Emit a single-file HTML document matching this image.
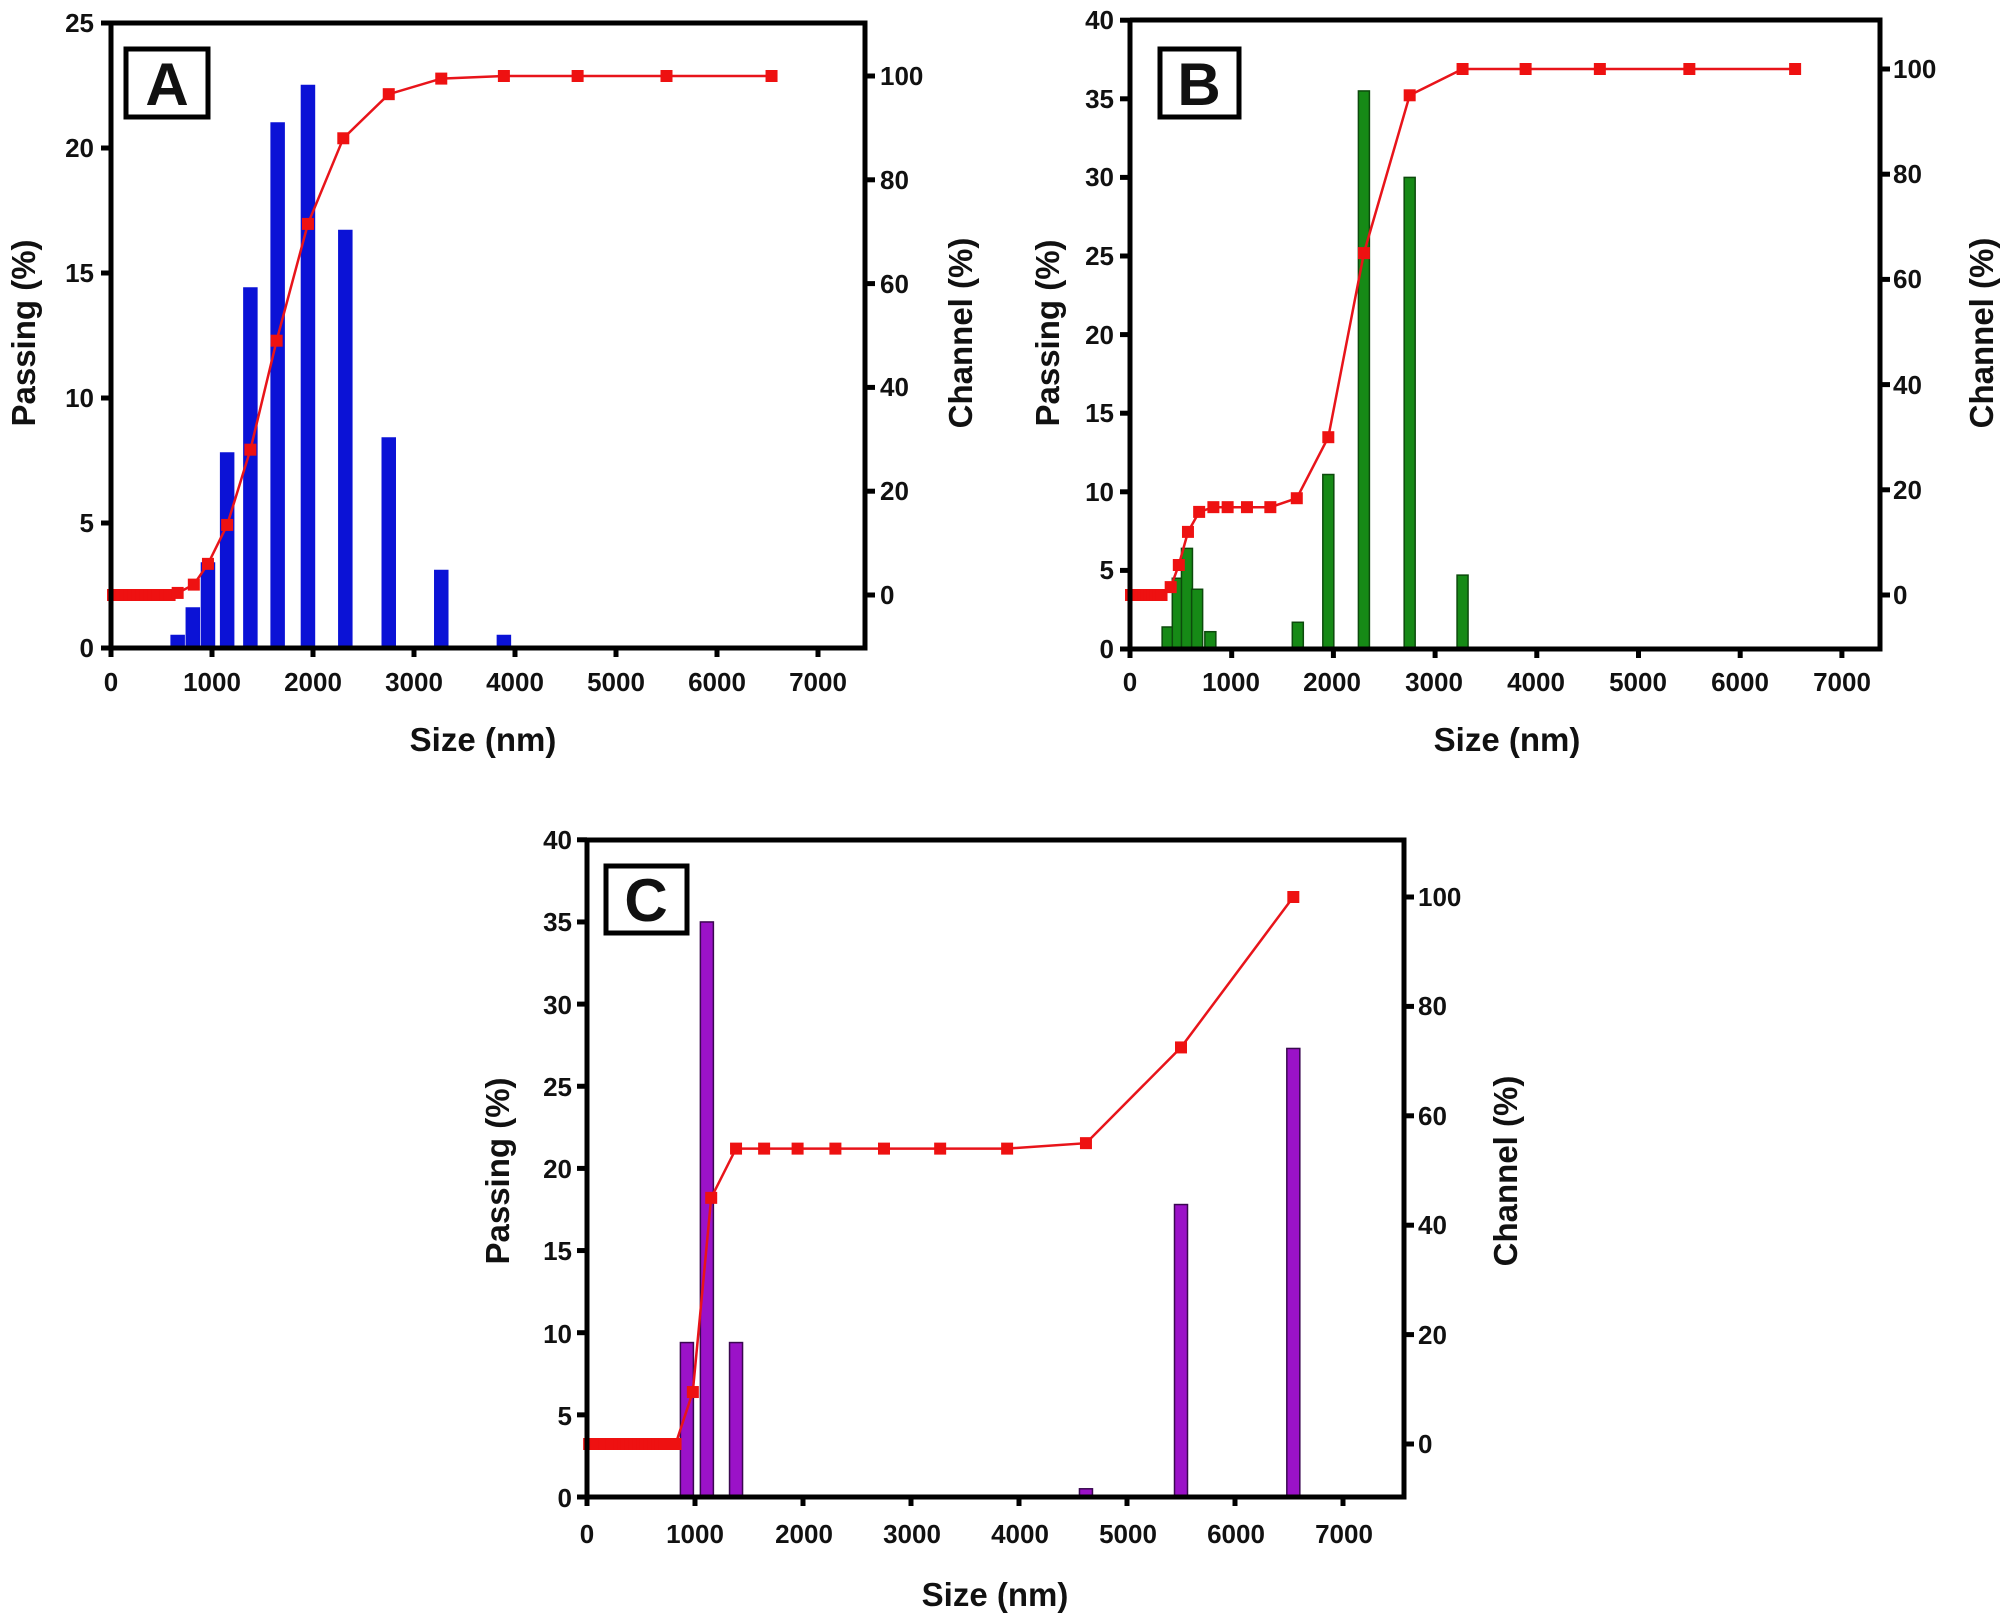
<!DOCTYPE html>
<html><head><meta charset="utf-8"><style>
html,body{margin:0;padding:0;background:#fff;}
svg{display:block;}
text{font-family:"Liberation Sans",Arial,sans-serif;font-weight:bold;fill:#111;}
.t{font-size:26px;}
.a{font-size:33px;}
.L{font-size:60px;}
</style></head><body>
<svg id="s" width="2007" height="1624" viewBox="0 0 2007 1624" xmlns="http://www.w3.org/2000/svg">
<rect width="2007" height="1624" fill="#fff"/>
<g id="g"></g>
<!-- Panel A text -->
<g class="t" text-anchor="middle">
<text x="111" y="691">0</text><text x="212" y="691">1000</text><text x="313" y="691">2000</text><text x="414" y="691">3000</text><text x="515" y="691">4000</text><text x="616" y="691">5000</text><text x="717" y="691">6000</text><text x="818" y="691">7000</text>
</g>
<g class="t" text-anchor="end">
<text x="94" y="657">0</text><text x="94" y="532">5</text><text x="94" y="407">10</text><text x="94" y="282">15</text><text x="94" y="157">20</text><text x="94" y="32">25</text>
</g>
<g class="t" text-anchor="start">
<text x="880" y="604">0</text><text x="880" y="500">20</text><text x="880" y="396">40</text><text x="880" y="293">60</text><text x="880" y="189">80</text><text x="880" y="85">100</text>
</g>
<text class="a" x="483" y="751" text-anchor="middle">Size (nm)</text>
<text class="a" transform="translate(35,333) rotate(-90)" text-anchor="middle">Passing (%)</text>
<text class="a" transform="translate(972,333) rotate(-90)" text-anchor="middle">Channel (%)</text>
<rect x="126" y="49" width="82" height="68" fill="#fff" stroke="#000" stroke-width="5"/>
<text class="L" x="167" y="105" text-anchor="middle">A</text>

<!-- Panel B text -->
<g class="t" text-anchor="middle">
<text x="1130" y="691">0</text><text x="1231" y="691">1000</text><text x="1332" y="691">2000</text><text x="1434" y="691">3000</text><text x="1536" y="691">4000</text><text x="1638" y="691">5000</text><text x="1740" y="691">6000</text><text x="1842" y="691">7000</text>
</g>
<g class="t" text-anchor="end">
<text x="1114" y="658">0</text><text x="1114" y="579">5</text><text x="1114" y="501">10</text><text x="1114" y="422">15</text><text x="1114" y="344">20</text><text x="1114" y="265">25</text><text x="1114" y="186">30</text><text x="1114" y="108">35</text><text x="1114" y="29">40</text>
</g>
<g class="t" text-anchor="start">
<text x="1893" y="604">0</text><text x="1893" y="499">20</text><text x="1893" y="394">40</text><text x="1893" y="288">60</text><text x="1893" y="183">80</text><text x="1893" y="78">100</text>
</g>
<text class="a" x="1507" y="751" text-anchor="middle">Size (nm)</text>
<text class="a" transform="translate(1059,333) rotate(-90)" text-anchor="middle">Passing (%)</text>
<text class="a" transform="translate(1993,333) rotate(-90)" text-anchor="middle">Channel (%)</text>
<rect x="1160" y="49" width="79" height="68" fill="#fff" stroke="#000" stroke-width="5"/>
<text class="L" x="1199" y="105" text-anchor="middle">B</text>

<!-- Panel C text -->
<g class="t" text-anchor="middle">
<text x="587" y="1543">0</text><text x="695" y="1543">1000</text><text x="804" y="1543">2000</text><text x="912" y="1543">3000</text><text x="1020" y="1543">4000</text><text x="1128" y="1543">5000</text><text x="1236" y="1543">6000</text><text x="1344" y="1543">7000</text>
</g>
<g class="t" text-anchor="end">
<text x="572" y="1507">0</text><text x="572" y="1425">5</text><text x="572" y="1343">10</text><text x="572" y="1260">15</text><text x="572" y="1178">20</text><text x="572" y="1096">25</text><text x="572" y="1014">30</text><text x="572" y="931">35</text><text x="572" y="849">40</text>
</g>
<g class="t" text-anchor="start">
<text x="1418" y="1453">0</text><text x="1418" y="1344">20</text><text x="1418" y="1234">40</text><text x="1418" y="1125">60</text><text x="1418" y="1015">80</text><text x="1418" y="906">100</text>
</g>
<text class="a" x="995" y="1606" text-anchor="middle">Size (nm)</text>
<text class="a" transform="translate(509,1171) rotate(-90)" text-anchor="middle">Passing (%)</text>
<text class="a" transform="translate(1517,1171) rotate(-90)" text-anchor="middle">Channel (%)</text>
<rect x="606" y="866" width="81" height="67" fill="#fff" stroke="#000" stroke-width="5"/>
<text class="L" x="646" y="921" text-anchor="middle">C</text>
</svg>
<script>
var NS="http://www.w3.org/2000/svg",g=document.getElementById('g');
function el(t,a){var e=document.createElementNS(NS,t);for(var k in a)e.setAttribute(k,a[k]);g.appendChild(e);return e;}
function panel(P){
  var X=function(v){return P.x0+v*P.kx/1000;};
  var Y=function(v){return P.yb-v*P.ky;};
  var R=function(v){return P.r0-v*P.kr;};
  P.bars.forEach(function(b){var h=b[1]*P.ky;el('rect',{x:X(b[0])-P.bw/2,y:P.yb-h,width:P.bw,height:h,fill:P.fill,stroke:P.stroke,'stroke-width':1.5});});
  var pts=P.line.map(function(p){return X(p[0]).toFixed(1)+','+R(p[1]).toFixed(1);}).join(' ');
  el('polyline',{points:pts,fill:'none',stroke:'#e8141a','stroke-width':2.5});
  P.line.forEach(function(p){el('rect',{x:X(p[0])-6,y:R(p[1])-6,width:12,height:12,fill:'#ee1111'});});
  el('polyline',{points:P.xl+','+P.yt+' '+P.xl+','+P.yb+' '+P.xr+','+P.yb+' '+P.xr+','+P.yt+' '+P.xl+','+P.yt,fill:'none',stroke:'#000','stroke-width':5});
  for(var k=0;k<=7;k++){var x=X(k*1000);el('line',{x1:x,y1:P.yb,x2:x,y2:P.yb+9,stroke:'#000','stroke-width':5});}
  P.lt.forEach(function(v){var y=Y(v);el('line',{x1:P.xl,y1:y,x2:P.xl-10,y2:y,stroke:'#000','stroke-width':5});});
  [0,20,40,60,80,100].forEach(function(v){var y=R(v);el('line',{x1:P.xr,y1:y,x2:P.xr+10,y2:y,stroke:'#000','stroke-width':5});});
}
function zeros(a,b,s){var r=[];for(var x=a;x<=b;x+=s)r.push([x,0]);return r;}
panel({x0:111,kx:101,yb:648,yt:23,ky:25,r0:595,kr:5.19,xl:111,xr:865,bw:13,fill:'#0b12d6',stroke:'#0b12d6',
 lt:[0,5,10,15,20,25],
 bars:[[660,0.5],[810,1.6],[960,3.4],[1150,7.8],[1380,14.4],[1650,21],[1950,22.5],[2320,16.7],[2750,8.4],[3270,3.1],[3890,0.5]],
 line:zeros(20,600,40).concat([[660,0.4],[820,2],[960,6],[1150,13.5],[1380,28],[1640,49],[1950,71.5],[2300,88],[2750,96.5],[3270,99.5],[3890,100],[4620,100],[5500,100],[6540,100]])});
panel({x0:1130,kx:101.7,yb:649,yt:20,ky:15.72,r0:595,kr:5.26,xl:1130,xr:1880,bw:11,fill:'#168a16',stroke:'#0c4a0c',
 lt:[0,5,10,15,20,25,30,35,40],
 bars:[[370,1.4],[470,4.5],[560,6.4],[660,3.8],[790,1.1],[1650,1.7],[1950,11.1],[2300,35.5],[2750,30],[3270,4.7]],
 line:zeros(10,330,30).concat([[400,1.5],[480,5.7],[570,12],[680,15.8],[820,16.7],[960,16.7],[1150,16.7],[1380,16.7],[1640,18.4],[1950,30],[2300,65],[2750,95],[3270,100],[3890,100],[4620,100],[5500,100],[6540,100]])});
panel({x0:587,kx:108,yb:1497,yt:840,ky:16.43,r0:1444,kr:5.47,xl:587,xr:1404,bw:13,fill:'#9b12c8',stroke:'#3a0850',
 lt:[0,5,10,15,20,25,30,35,40],
 bars:[[925,9.4],[1110,35],[1380,9.4],[4620,0.5],[5500,17.8],[6540,27.3]],
 line:zeros(20,720,35).concat([[820,0],[980,9.5],[1150,45],[1380,54],[1640,54],[1950,54],[2300,54],[2750,54],[3270,54],[3890,54],[4620,55],[5500,72.5],[6540,100]])});
</script>
</body></html>
